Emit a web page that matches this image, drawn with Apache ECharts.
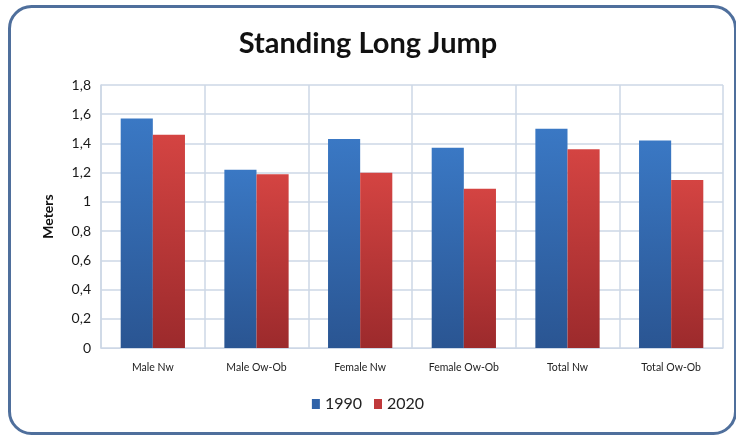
<!DOCTYPE html>
<html>
<head>
<meta charset="utf-8">
<style>
  html, body { margin: 0; padding: 0; background: #ffffff; }
  #chart { width: 736px; height: 435px; }
</style>
<script src="https://cdn.jsdelivr.net/npm/echarts@6/dist/echarts.min.js"></script>
</head>
<body>
<div id="chart"></div>
<script>
// Standing long jump distance (m) by group, 1990 vs 2020
const categories = ['Male Nw', 'Male Ow-Ob', 'Female Nw', 'Female Ow-Ob', 'Total Nw', 'Total Ow-Ob'];
const values1990 = [1.57, 1.22, 1.43, 1.37, 1.50, 1.42];
const values2020 = [1.46, 1.19, 1.20, 1.09, 1.36, 1.15];
const seriesNames = ['1990', '2020'];

const gridColor = '#cdd7e6';

function barGradient(top, bottom) {
  return new echarts.graphic.LinearGradient(0, 0, 0, 1, [
    { offset: 0, color: top },
    { offset: 1, color: bottom }
  ]);
}

const chart = echarts.init(document.getElementById('chart'), null, { renderer: 'canvas' });

chart.setOption({
  animation: false,
  backgroundColor: '#ffffff',
  graphic: [{
    type: 'rect',
    left: 7,
    top: 4,
    shape: { width: 726, height: 427, r: 22 },
    style: { fill: 'none', stroke: '#4f6f9c', lineWidth: 3 },
    silent: true,
    z: 100
  }],
  title: {
    text: 'Standing Long Jump',
    left: 'center',
    top: 24,
    textStyle: { fontFamily: 'Lato', fontWeight: 'bold', fontSize: 29, color: '#111111' }
  },
  legend: {
    bottom: 18,
    left: 'center',
    itemWidth: 8,
    itemHeight: 10,
    itemGap: 12,
    icon: 'rect',
    textStyle: { fontFamily: 'Lato', fontSize: 16, color: '#222222' },
    data: [
      { name: seriesNames[0], itemStyle: { color: '#2f62a8' } },
      { name: seriesNames[1], itemStyle: { color: '#c0393b' } }
    ]
  },
  grid: { left: 101, right: 13, top: 85, bottom: 87 },
  xAxis: {
    type: 'category',
    data: categories,
    boundaryGap: true,
    axisLine: { show: true, lineStyle: { color: gridColor } },
    axisTick: { show: false },
    splitLine: { show: true, lineStyle: { color: gridColor, width: 1.5 } },
    axisLabel: { fontFamily: 'Lato', fontSize: 10.5, color: '#222222', margin: 14 }
  },
  yAxis: {
    type: 'value',
    min: 0,
    max: 1.8,
    interval: 0.2,
    name: 'Meters',
    nameLocation: 'middle',
    nameGap: 46,
    nameRotate: 90,
    nameTextStyle: { fontFamily: 'Lato', fontWeight: 'bold', fontSize: 14, color: '#111111' },
    axisLine: { show: true, lineStyle: { color: gridColor, width: 1.5 } },
    axisTick: { show: false },
    splitLine: { show: true, lineStyle: { color: gridColor, width: 1.5 } },
    axisLabel: {
      fontFamily: 'Lato', fontSize: 14, color: '#1a1a1a', margin: 10,
      formatter: v => String(Math.round(v * 10) / 10).replace('.', ',')
    }
  },
  series: [
    {
      name: seriesNames[0],
      type: 'bar',
      data: values1990,
      barGap: '0%',
      barCategoryGap: '38%',
      itemStyle: { color: barGradient('#3a78c4', '#2a5592') }
    },
    {
      name: seriesNames[1],
      type: 'bar',
      data: values2020,
      itemStyle: { color: barGradient('#d44442', '#9c2a2c') }
    }
  ]
});
</script>
</body>
</html>
